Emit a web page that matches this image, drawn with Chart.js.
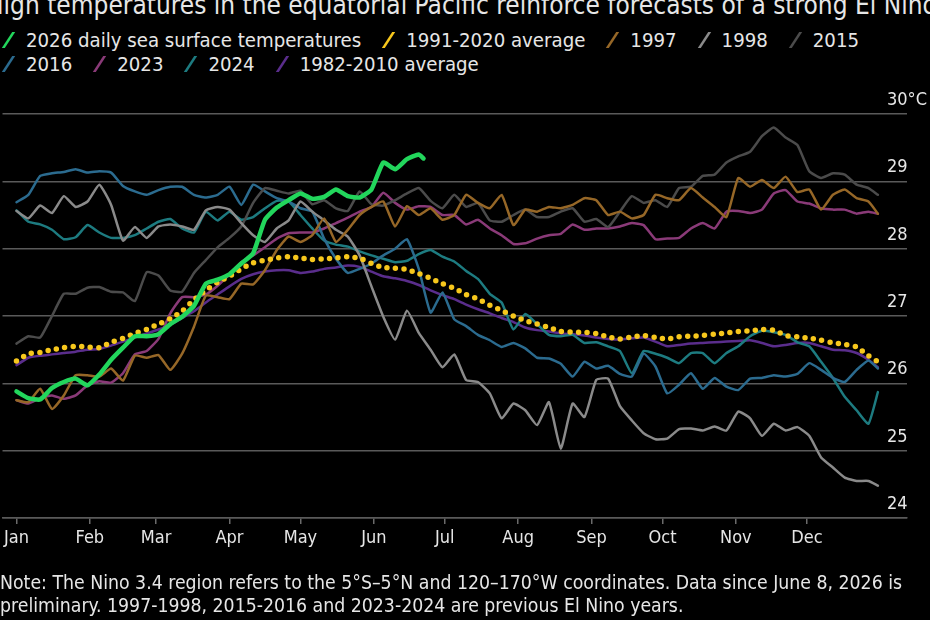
<!DOCTYPE html>
<html>
<head>
<meta charset="utf-8">
<script src="https://cdn.jsdelivr.net/npm/chart.js@4.4.1/dist/chart.umd.min.js"></script>
<style>
  body { margin: 0; background: #000; }
  #wrap { position: relative; width: 930px; height: 620px; overflow: hidden; background: #000; color: #e6e6e6;
          font-family: "DejaVu Sans Condensed", "Liberation Sans Narrow", sans-serif; }
  #title { position: absolute; left: -14px; top: -8px; font-size: 26px; line-height: 26px; white-space: nowrap; }
  #legend { position: absolute; left: 3px; top: 28px; width: 925px; font-size: 20.2px; line-height: 24px; }
  .row { display: flex; white-space: nowrap; }
  .item { display: flex; align-items: center; margin-right: 22px; }
  .mk { display: inline-block; width: 3px; height: 16px; margin-left: 4px; margin-right: 16px; transform: skewX(-33deg); }
  #note { position: absolute; left: 0; top: 571px; font-size: 19.3px; line-height: 23px; white-space: nowrap; }
  canvas { position: absolute; left: 0; top: 0; }
</style>
</head>
<body>
<div id="wrap">
  <div id="title">High temperatures in the equatorial Pacific reinforce forecasts of a strong El Nino</div>
  <div id="legend"></div>
  <canvas id="chart" width="930" height="620"></canvas>
  <div id="note">Note: The Nino 3.4 region refers to the 5°S–5°N and 120–170°W coordinates. Data since June 8, 2026 is<br>preliminary. 1997-1998, 2015-2016 and 2023-2024 are previous El Nino years.</div>
</div>
<script>
const FONT = '"DejaVu Sans Condensed", "Liberation Sans Narrow", sans-serif';

// x axis: day of year
const MONTHS = ['Jan', 'Feb', 'Mar', 'Apr', 'May', 'Jun', 'Jul', 'Aug', 'Sep', 'Oct', 'Nov', 'Dec'];
const MONTH_DAYS = [0, 31, 59, 90, 120, 151, 181, 212, 243, 273, 304, 334];
const Y_TICKS = [24, 25, 26, 27, 28, 29, 30];

// every 5 days, plus Dec 31
const DAYS = [0, 5, 10, 15, 20, 25, 30, 35, 40, 45, 50, 55, 60, 65, 70, 75, 80, 85, 90, 95,
  100, 105, 110, 115, 120, 125, 130, 135, 140, 145, 150, 155, 160, 165, 170, 175, 180, 185, 190, 195,
  200, 205, 210, 215, 220, 225, 230, 235, 240, 245, 250, 255, 260, 265, 270, 275, 280, 285, 290, 295,
  300, 305, 310, 315, 320, 325, 330, 335, 340, 345, 350, 355, 360, 364];

const DAYS_2026 = [0, 5, 10, 15, 20, 25, 30, 35, 40, 45, 50, 55, 60, 65, 70, 75, 80, 85, 90, 95,
  100, 105, 110, 115, 120, 125, 130, 135, 140, 145, 150, 155, 160, 165, 170, 172];
const SST_2026 = [25.88, 25.78, 25.76, 25.93, 26.02, 26.07, 25.97, 26.13, 26.35, 26.53,
  26.70, 26.70, 26.73, 26.88, 26.99, 27.15, 27.48, 27.54, 27.62, 27.78,
  27.93, 28.43, 28.61, 28.72, 28.82, 28.74, 28.77, 28.88, 28.78, 28.76,
  28.88, 29.28, 29.18, 29.33, 29.40, 29.34];

const AVG_1991_2020 = [26.33, 26.44, 26.46, 26.50, 26.53, 26.55, 26.54, 26.53, 26.61, 26.67,
  26.74, 26.80, 26.88, 26.96, 27.07, 27.24, 27.38, 27.50, 27.59, 27.70,
  27.79, 27.83, 27.86, 27.88, 27.86, 27.84, 27.85, 27.86, 27.88, 27.86,
  27.78, 27.72, 27.71, 27.69, 27.63, 27.56, 27.48, 27.41, 27.32, 27.25,
  27.16, 27.08, 27.00, 26.93, 26.88, 26.83, 26.77, 26.76, 26.76, 26.74,
  26.69, 26.66, 26.69, 26.71, 26.68, 26.66, 26.69, 26.70, 26.71, 26.73,
  26.75, 26.77, 26.78, 26.80, 26.79, 26.71, 26.69, 26.67, 26.64, 26.60,
  26.58, 26.54, 26.41, 26.32];

const Y1997 = [25.75, 25.72, 25.92, 25.62, 25.82, 26.12, 26.12, 26.10, 26.22, 26.04,
  26.41, 26.38, 26.42, 26.20, 26.44, 26.84, 27.30, 27.28, 27.25, 27.48,
  27.47, 27.68, 27.98, 28.18, 28.10, 28.20, 28.45, 28.10, 28.28, 28.50,
  28.62, 28.70, 28.33, 28.63, 28.50, 28.60, 28.43, 28.50, 28.80, 28.68,
  28.60, 28.80, 28.35, 28.58, 28.55, 28.62, 28.60, 28.65, 28.75, 28.72,
  28.50, 28.55, 28.45, 28.50, 28.80, 28.75, 28.72, 28.90, 28.76, 28.62,
  28.47, 29.05, 28.92, 29.02, 28.90, 29.07, 28.84, 28.88, 28.58, 28.80,
  28.88, 28.75, 28.70, 28.52];

const Y1998 = [28.56, 28.45, 28.64, 28.53, 28.78, 28.62, 28.70, 28.95, 28.65, 28.12,
  28.32, 28.16, 28.33, 28.36, 28.33, 28.28, 28.57, 28.62, 28.58, 28.38,
  28.20, 28.10, 28.30, 28.42, 28.70, 28.55, 28.42, 28.28, 28.18, 27.90,
  27.44, 26.99, 26.65, 27.08, 26.75, 26.50, 26.24, 26.43, 26.05, 26.02,
  25.85, 25.48, 25.70, 25.60, 25.38, 25.72, 25.03, 25.70, 25.50, 26.05,
  26.07, 25.66, 25.45, 25.26, 25.17, 25.18, 25.32, 25.33, 25.30, 25.36,
  25.30, 25.58, 25.48, 25.22, 25.40, 25.30, 25.35, 25.22, 24.90, 24.75,
  24.60, 24.55, 24.55, 24.48];

const Y2015 = [26.59, 26.70, 26.68, 27.00, 27.33, 27.33, 27.42, 27.43, 27.36, 27.35,
  27.22, 27.65, 27.60, 27.38, 27.36, 27.64, 27.83, 28.02, 28.16, 28.33,
  28.68, 28.90, 28.86, 28.82, 28.86, 28.66, 28.72, 28.60, 28.56, 28.85,
  28.66, 28.64, 28.72, 28.82, 28.90, 28.71, 28.60, 28.80, 28.62, 28.68,
  28.42, 28.40, 28.50, 28.58, 28.47, 28.47, 28.55, 28.60, 28.40, 28.44,
  28.32, 28.55, 28.78, 28.68, 28.72, 28.62, 28.90, 28.92, 29.08, 29.10,
  29.28, 29.37, 29.44, 29.67, 29.80, 29.65, 29.54, 29.15, 29.05, 29.12,
  29.10, 28.95, 28.90, 28.80];

const Y2016 = [28.69, 28.80, 29.08, 29.12, 29.14, 29.18, 29.13, 29.15, 29.13, 28.93,
  28.85, 28.80, 28.87, 28.92, 28.92, 28.80, 28.76, 28.80, 28.92, 28.65,
  28.95, 28.85, 28.75, 28.70, 28.60, 28.55, 28.15, 27.85, 27.64, 27.70,
  27.78, 27.90, 28.00, 28.14, 27.70, 27.05, 27.35, 26.95, 26.85, 26.72,
  26.64, 26.54, 26.60, 26.52, 26.38, 26.37, 26.29, 26.10, 26.32, 26.22,
  26.26, 26.14, 26.10, 26.44, 26.25, 25.85, 25.98, 26.15, 25.92, 26.08,
  25.95, 25.90, 26.07, 26.08, 26.12, 26.10, 26.14, 26.30, 26.20, 26.08,
  26.02, 26.20, 26.34, 26.22];

const Y2023 = [25.75, 25.70, 25.78, 25.82, 25.77, 25.82, 25.97, 26.03, 26.01, 26.15,
  26.43, 26.48, 26.66, 27.04, 27.28, 27.28, 27.32, 27.45, 27.62, 27.80,
  27.90, 28.02, 28.15, 28.23, 28.24, 28.24, 28.30, 28.38, 28.46, 28.55,
  28.62, 28.83, 28.68, 28.58, 28.63, 28.62, 28.50, 28.50, 28.36, 28.43,
  28.30, 28.20, 28.07, 28.08, 28.15, 28.20, 28.22, 28.36, 28.28, 28.30,
  28.30, 28.33, 28.38, 28.35, 28.14, 28.15, 28.16, 28.30, 28.38, 28.30,
  28.55, 28.56, 28.53, 28.58, 28.82, 28.87, 28.70, 28.67, 28.60, 28.58,
  28.58, 28.52, 28.55, 28.52];

const Y2024 = [28.57, 28.40, 28.36, 28.28, 28.14, 28.17, 28.35, 28.24, 28.16, 28.16,
  28.20, 28.30, 28.40, 28.44, 28.30, 28.24, 28.55, 28.42, 28.55, 28.43,
  28.47, 28.60, 28.71, 28.70, 28.50, 28.30, 28.12, 28.06, 28.03, 27.96,
  27.90, 27.85, 27.80, 27.82, 27.92, 27.98, 27.88, 27.81, 27.67, 27.55,
  27.33, 27.20, 26.80, 27.03, 26.88, 26.72, 26.70, 26.72, 26.60, 26.61,
  26.55, 26.48, 26.15, 26.48, 26.44, 26.38, 26.30, 26.45, 26.45, 26.30,
  26.45, 26.55, 26.70, 26.78, 26.76, 26.72, 26.61, 26.55, 26.32, 26.08,
  25.80, 25.60, 25.40, 25.87];

const AVG_1982_2010 = [26.27, 26.38, 26.41, 26.43, 26.45, 26.47, 26.50, 26.51, 26.56, 26.62,
  26.68, 26.74, 26.80, 26.87, 26.97, 27.07, 27.20, 27.32, 27.44, 27.55,
  27.62, 27.66, 27.68, 27.68, 27.64, 27.66, 27.70, 27.72, 27.75, 27.73,
  27.66, 27.59, 27.56, 27.52, 27.46, 27.38, 27.31, 27.25, 27.17, 27.10,
  27.04, 26.97, 26.91, 26.83, 26.79, 26.77, 26.74, 26.73, 26.71, 26.68,
  26.66, 26.65, 26.67, 26.68, 26.62, 26.55, 26.57, 26.59, 26.60, 26.61,
  26.62, 26.63, 26.64, 26.60, 26.55, 26.57, 26.60, 26.60, 26.55, 26.50,
  26.49, 26.45, 26.35, 26.24];

const SERIES = [
  { label: '2026 daily sea surface temperatures', days: DAYS_2026, values: SST_2026, color: '#22d65c', width: 4.5 },
  { label: '1991-2020 average', days: DAYS, values: AVG_1991_2020, color: '#f7c71c', width: 5.5, dotted: true },
  { label: '1997', days: DAYS, values: Y1997, color: '#966727', width: 2.5 },
  { label: '1998', days: DAYS, values: Y1998, color: '#8a8a8a', width: 2.5 },
  { label: '2015', days: DAYS, values: Y2015, color: '#4b4b4b', width: 2.5 },
  { label: '2016', days: DAYS, values: Y2016, color: '#2b6b8f', width: 2.5 },
  { label: '2023', days: DAYS, values: Y2023, color: '#8a3a78', width: 2.5 },
  { label: '2024', days: DAYS, values: Y2024, color: '#1d7b80', width: 2.5 },
  { label: '1982-2010 average', days: DAYS, values: AVG_1982_2010, color: '#5a2d8c', width: 2.5 }
];

// legend in two rows, as in the original
const legendRows = [SERIES.slice(0, 5), SERIES.slice(5)];
const legendEl = document.getElementById('legend');
legendRows.forEach(row => {
  const r = document.createElement('div');
  r.className = 'row';
  row.forEach(s => {
    const it = document.createElement('div');
    it.className = 'item';
    const mk = document.createElement('span');
    mk.className = 'mk';
    mk.style.background = s.color;
    it.appendChild(mk);
    it.appendChild(document.createTextNode(s.label));
    r.appendChild(it);
  });
  legendEl.appendChild(r);
});

// y labels sit above their gridlines, at the right
const yLabels = {
  id: 'yLabels',
  afterDraw(chart) {
    const { ctx, scales: { y } } = chart;
    ctx.save();
    ctx.font = '18px ' + FONT;
    ctx.fillStyle = '#e6e6e6';
    ctx.textAlign = 'left';
    ctx.textBaseline = 'alphabetic';
    Y_TICKS.forEach(v => {
      ctx.fillText(v === 30 ? '30°C' : String(v), 887, y.getPixelForValue(v) - 9);
    });
    ctx.restore();
  }
};

new Chart(document.getElementById('chart'), {
  type: 'line',
  data: {
    datasets: SERIES.map(s => ({
      label: s.label,
      data: s.days.map((d, i) => ({ x: d, y: s.values[i] })),
      borderColor: s.color,
      backgroundColor: s.color,
      borderWidth: s.width,
      borderDash: s.dotted ? [0, 8.5] : [],
      borderCapStyle: 'round',
      borderJoinStyle: 'round',
      pointRadius: 0,
      tension: 0.15,
      fill: false
    }))
  },
  options: {
    responsive: false,
    animation: false,
    devicePixelRatio: 1,
    layout: { padding: { top: 114, right: 23, left: 0, bottom: 0 } },
    plugins: { legend: { display: false }, tooltip: { enabled: false } },
    scales: {
      x: {
        type: 'linear',
        min: -5.9,
        max: 376.3,
        afterBuildTicks: scale => { scale.ticks = MONTH_DAYS.map(v => ({ value: v })); },
        afterFit: scale => { scale.height = 102; },
        ticks: {
          callback: (v, i) => MONTHS[i],
          color: '#e6e6e6',
          font: { family: FONT, size: 18 },
          padding: 4,
          maxRotation: 0,
          autoSkip: false
        },
        grid: { drawOnChartArea: false, drawTicks: true, tickLength: 6, color: '#6a6a6a', lineWidth: 1.5 },
        border: { display: true, color: '#5a5a5a', width: 1.5 }
      },
      y: {
        position: 'right',
        min: 24,
        max: 30,
        afterBuildTicks: scale => { scale.ticks = Y_TICKS.map(v => ({ value: v })); },
        afterFit: scale => { scale.width = 0; },
        ticks: { display: false },
        grid: { color: '#5a5a5a', lineWidth: 1.5, drawTicks: false },
        border: { display: false }
      }
    }
  },
  plugins: [yLabels]
});
</script>
</body>
</html>
